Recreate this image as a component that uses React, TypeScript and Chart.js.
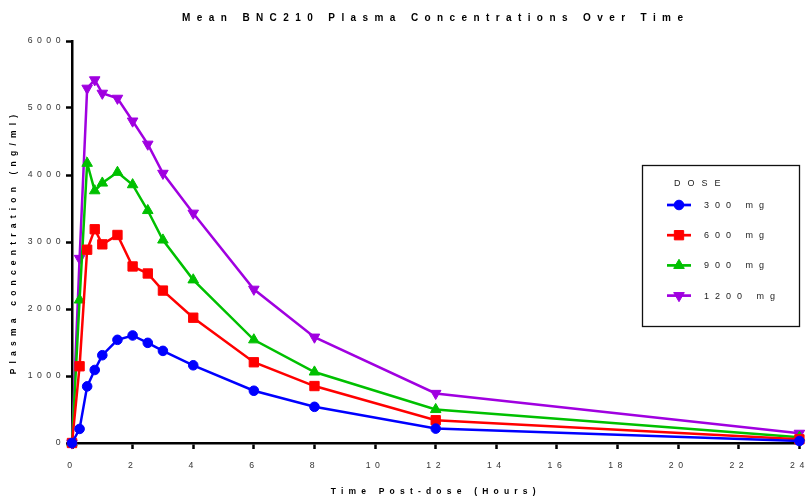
import React, { useEffect, useRef } from 'react';
import { Chart, registerables, LinearScale } from 'chart.js';
import { drawPoint } from 'chart.js/helpers';

const FONT = "'Liberation Sans', Arial, Helvetica, sans-serif";

// ---- data ----
const timeHours = [0, 0.25, 0.5, 0.75, 1, 1.5, 2, 2.5, 3, 4, 6, 8, 12, 24];
const dose300 = [0, 210, 845, 1090, 1310, 1540, 1605, 1495, 1375, 1160, 780, 540, 215, 30];
const dose600 = [0, 1145, 2885, 3190, 2965, 3105, 2635, 2530, 2275, 1870, 1205, 850, 340, 55];
const dose900 = [0, 2135, 4175, 3765, 3880, 4040, 3855, 3470, 3030, 2435, 1540, 1060, 500, 85];
const dose1200 = [0, 2755, 5295, 5420, 5220, 5145, 4805, 4460, 4025, 3430, 2295, 1580, 740, 145];
const seriesLabels = ['300 mg', '600 mg', '900 mg', '1200 mg'];
const legendTitle = 'DOSE';
const chartTitle = 'Mean BNC210 Plasma Concentrations Over Time';
const xAxisTitle = 'Time Post-dose (Hours)';
const yAxisTitle = 'Plasma concentration (ng/ml)';
const xTickValues = [0, 2, 4, 6, 8, 10, 12, 14, 16, 18, 20, 22, 24];
const yTickValues = [0, 1000, 2000, 3000, 4000, 5000, 6000];

// ---- styles ----
const COLORS = ['#0000FF', '#FF0000', '#00C000', '#A000E0'];
const POINT_STYLES = ['circle', 'rect', 'triangle', 'triangle'];
const POINT_ROTATIONS = [0, 0, 0, 180];
const POINT_RADII = [4.8, 6.6, 6.1, 6.1];

const TICK_SPACING = '4.5px';
const AXIS_TITLE_SPACING = '5.2px';
const TITLE_SPACING = '6.4px';

class SpacedLinearScale extends LinearScale {
  static id = 'spacedLinear';
  static defaults = LinearScale.defaults;
  drawLabels(chartArea: any) {
    const ctx: any = this.ctx;
    ctx.save();
    ctx.letterSpacing = TICK_SPACING;
    super.drawLabels(chartArea);
    ctx.restore();
  }
  drawTitle() {
    const ctx: any = this.ctx;
    ctx.save();
    ctx.letterSpacing = AXIS_TITLE_SPACING;
    super.drawTitle();
    ctx.restore();
  }
}

Chart.register(...registerables, SpacedLinearScale);

const spacingPlugin = {
  id: 'titleSpacing',
  beforeDraw(chart: any) {
    chart.ctx.letterSpacing = TITLE_SPACING;
  },
  beforeDatasetsDraw(chart: any) {
    chart.ctx.letterSpacing = '0px';
  },
};

const doseLegendPlugin = {
  id: 'doseLegend',
  afterDraw(chart: any) {
    const ctx: any = chart.ctx;
    const left = 642;
    const top = 165;
    const w = 157;
    const h = 161;
    ctx.save();
    ctx.letterSpacing = '0px';
    ctx.fillStyle = '#ffffff';
    ctx.fillRect(left, top, w, h);
    ctx.strokeStyle = '#111';
    ctx.lineWidth = 1.3;
    ctx.strokeRect(left + 0.5, top + 0.5, w, h);

    ctx.font = `9px ${FONT}`;
    ctx.textBaseline = 'middle';
    ctx.textAlign = 'left';
    ctx.fillStyle = '#222';
    ctx.letterSpacing = '7px';
    ctx.fillText(legendTitle, left + 32, top + 19);

    chart.data.datasets.forEach((ds: any, i: number) => {
      const y = top + 40 + i * 30.2;
      const x0 = left + 25;
      const x1 = left + 49;
      ctx.strokeStyle = ds.borderColor;
      ctx.lineWidth = 2.7;
      ctx.beginPath();
      ctx.moveTo(x0, y);
      ctx.lineTo(x1, y);
      ctx.stroke();
      ctx.fillStyle = ds.pointBackgroundColor;
      ctx.strokeStyle = ds.pointBorderColor;
      ctx.lineWidth = 1;
      drawPoint(
        ctx,
        { pointStyle: ds.pointStyle, rotation: ds.pointRotation || 0, radius: ds.pointRadius, borderWidth: 1 },
        (x0 + x1) / 2,
        y
      );
      ctx.fillStyle = '#222';
      ctx.letterSpacing = '6px';
      ctx.fillText(ds.label, left + 62, y + 0.5);
    });
    ctx.restore();
  },
};

const seriesValues = [dose300, dose600, dose900, dose1200];

export default function App() {
  const canvasRef = useRef<HTMLCanvasElement | null>(null);

  useEffect(() => {
    const canvas = canvasRef.current;
    if (!canvas) return;
    const datasets = seriesValues.map((vals, i) => ({
      label: seriesLabels[i],
      data: timeHours.map((t, j) => ({ x: t, y: vals[j] })),
      borderColor: COLORS[i],
      backgroundColor: COLORS[i],
      pointBackgroundColor: COLORS[i],
      pointBorderColor: COLORS[i],
      pointBorderWidth: 1,
      pointStyle: POINT_STYLES[i],
      pointRotation: POINT_ROTATIONS[i],
      pointRadius: POINT_RADII[i],
      borderWidth: 2.5,
      tension: 0,
      fill: false,
      clip: false as any,
    }));

    const tickFont = { family: FONT, size: 8.7, lineHeight: 1.2 };
    const axisTitleFont = { family: FONT, size: 8.5, weight: 'bold' as const, lineHeight: 1.2 };

    const chart = new Chart(canvas, {
      type: 'line',
      data: { datasets },
      plugins: [spacingPlugin, doseLegendPlugin],
      options: {
        responsive: true,
        maintainAspectRatio: false,
        animation: false,
        events: [],
        layout: { padding: { left: 0, right: 4, top: 0, bottom: 0 } },
        plugins: {
          legend: { display: false },
          tooltip: { enabled: false },
          title: {
            display: true,
            fullSize: false,
            text: chartTitle,
            color: '#000',
            font: { family: FONT, size: 10, weight: 'bold', lineHeight: 1.2 },
            padding: { top: 12, bottom: 17 },
          },
        },
        scales: {
          x: {
            type: 'spacedLinear' as any,
            position: 'bottom',
            min: xTickValues[0],
            max: xTickValues[xTickValues.length - 1],
            afterBuildTicks: (scale: any) => {
              scale.ticks = xTickValues.map((v) => ({ value: v }));
            },
            ticks: {
              autoSkip: false,
              maxRotation: 0,
              padding: 11,
              color: '#333',
              font: tickFont,
              callback: (v: any) => String(v),
            },
            grid: {
              display: true,
              drawOnChartArea: false,
              drawTicks: true,
              tickLength: 6,
              tickWidth: 2.5,
              tickColor: '#000',
            },
            border: { display: true, color: '#000', width: 2.5 },
            title: {
              display: true,
              text: xAxisTitle,
              color: '#000',
              font: axisTitleFont,
              padding: { top: 0, bottom: 1.8 },
            },
            afterFit: (scale: any) => {
              scale.height = 56;
              scale.paddingLeft = 0;
              scale.paddingRight = 0;
            },
          } as any,
          y: {
            type: 'spacedLinear' as any,
            position: 'left',
            min: yTickValues[0],
            max: yTickValues[yTickValues.length - 1],
            afterBuildTicks: (scale: any) => {
              scale.ticks = yTickValues.map((v) => ({ value: v }));
            },
            ticks: {
              autoSkip: false,
              padding: 1,
              color: '#333',
              font: tickFont,
              callback: (v: any) => String(v),
            },
            grid: {
              display: true,
              drawOnChartArea: false,
              drawTicks: true,
              tickLength: 6,
              tickWidth: 2.5,
              tickColor: '#000',
            },
            border: { display: true, color: '#000', width: 2.5 },
            title: {
              display: true,
              text: yAxisTitle,
              color: '#000',
              font: axisTitleFont,
              padding: { top: 8.6, bottom: 0 },
            },
            afterFit: (scale: any) => {
              scale.width = 72;
              scale.paddingTop = 0;
              scale.paddingBottom = 0;
            },
          } as any,
        },
      },
    });
    return () => chart.destroy();
  }, []);

  return (
    <div style={{ position: 'absolute', left: 0, top: 0, width: 807, height: 499, background: '#fff' }}>
      <canvas ref={canvasRef} />
    </div>
  );
}
